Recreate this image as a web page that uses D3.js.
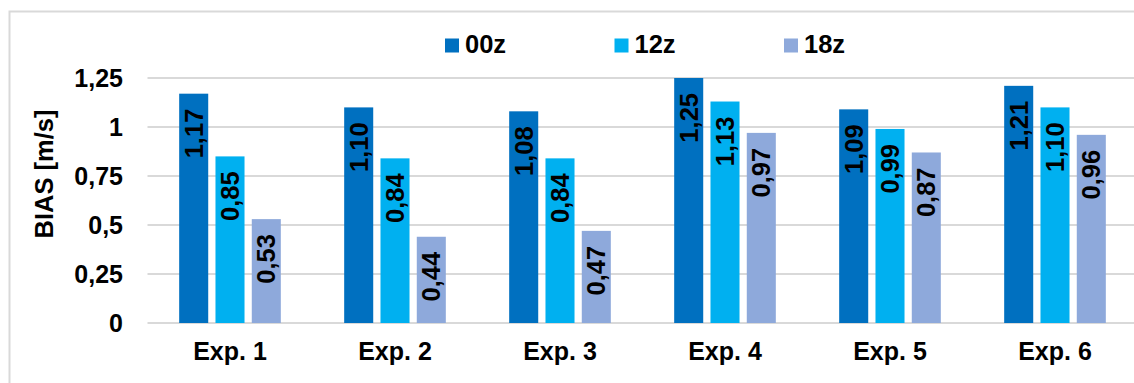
<!DOCTYPE html>
<html>
<head>
<meta charset="utf-8">
<script src="https://cdn.jsdelivr.net/npm/d3@7"></script>
<style>
  html, body { margin: 0; padding: 0; background: #fff; }
  svg { display: block; font-family: Arial, "Liberation Sans", sans-serif; }
</style>
</head>
<body>
<svg id="chart" width="1134" height="383"></svg>
<script>
// Wind speed bias per experiment and forecast cycle
const categories = ["Exp. 1", "Exp. 2", "Exp. 3", "Exp. 4", "Exp. 5", "Exp. 6"];
const seriesNames = ["00z", "12z", "18z"];
const values00z = [1.17, 1.10, 1.08, 1.25, 1.09, 1.21];
const values12z = [0.85, 0.84, 0.84, 1.13, 0.99, 1.10];
const values18z = [0.53, 0.44, 0.47, 0.97, 0.87, 0.96];
const yTicks = [0, 0.25, 0.5, 0.75, 1, 1.25];
const yTitle = "BIAS [m/s]";

const colors = { "00z": "#0070C0", "12z": "#00B0F0", "18z": "#8EA9DB" };
const seriesValues = { "00z": values00z, "12z": values12z, "18z": values18z };

const svg = d3.select("#chart");
const fmt = v => d3.format(".2f")(v).replace(".", ",");
const tickFmt = v => String(v).replace(".", ",");

// chart frame
svg.append("path")
  .attr("d", "M9.5,383 L9.5,11.5 L1134,11.5")
  .attr("fill", "none")
  .attr("stroke", "#d9d9d9")
  .attr("stroke-width", 2);

const y = d3.scaleLinear().domain([0, 1.25]).range([323, 78]);
const x0 = d3.scaleBand().domain(categories)
  .range([147.5, 1137.5]).paddingInner(0.384).paddingOuter(0.192);
const x1 = d3.scaleBand().domain(seriesNames)
  .range([0, x0.bandwidth()]).paddingInner(0.2).paddingOuter(0);

// horizontal gridlines
svg.append("g").selectAll("line").data(yTicks).join("line")
  .attr("x1", 147.5).attr("x2", 1134)
  .attr("y1", d => y(d)).attr("y2", d => y(d))
  .attr("stroke", "#d9d9d9").attr("stroke-width", 2);

// y axis tick labels
const yAxis = d3.axisLeft(y).tickValues(yTicks).tickFormat(tickFmt).tickSize(0).tickPadding(0);
const gy = svg.append("g").attr("transform", "translate(123,0)").call(yAxis);
gy.select(".domain").remove();
gy.selectAll("text")
  .attr("font-size", 25).attr("font-weight", "bold").attr("fill", "#000")
  .attr("font-family", "Arial, 'Liberation Sans', sans-serif")
  .attr("dy", "0.35em");

// y axis title
svg.append("text")
  .attr("transform", "translate(53,174) rotate(-90)")
  .attr("text-anchor", "middle")
  .attr("font-size", 25.5).attr("font-weight", "bold").attr("fill", "#000")
  .text(yTitle);

// x axis category labels
const xAxis = d3.axisBottom(x0).tickSize(0).tickPadding(0);
const gx = svg.append("g").attr("transform", "translate(0,359.5)").call(xAxis);
gx.select(".domain").remove();
gx.selectAll("text")
  .attr("font-size", 25).attr("font-weight", "bold").attr("fill", "#000")
  .attr("font-family", "Arial, 'Liberation Sans', sans-serif")
  .attr("dy", 0);

// bars and value labels
const rows = categories.map((c, i) => ({
  cat: c,
  items: seriesNames.map(s => ({ s, v: seriesValues[s][i] }))
}));

const groups = svg.append("g").selectAll("g").data(rows).join("g")
  .attr("transform", d => `translate(${x0(d.cat)},0)`);

groups.selectAll("rect").data(d => d.items).join("rect")
  .attr("x", d => x1(d.s))
  .attr("y", d => y(d.v))
  .attr("width", x1.bandwidth())
  .attr("height", d => y(0) - y(d.v))
  .attr("fill", d => colors[d.s]);

groups.selectAll("text.val").data(d => d.items).join("text")
  .attr("class", "val")
  .attr("transform", d => `translate(${x1(d.s) + x1.bandwidth() / 2 + 9},${y(d.v) + 15}) rotate(-90)`)
  .attr("text-anchor", "end")
  .attr("font-size", 25.5).attr("font-weight", "bold").attr("fill", "#000")
  .text(d => fmt(d.v));

// legend
const legendX = [445, 614.5, 784];
const legend = svg.append("g").selectAll("g").data(seriesNames).join("g")
  .attr("transform", (d, i) => `translate(${legendX[i]},0)`);
legend.append("rect")
  .attr("x", 0).attr("y", 38.5).attr("width", 14).attr("height", 14)
  .attr("fill", d => colors[d]);
legend.append("text")
  .attr("x", 20).attr("y", 53.3)
  .attr("font-size", 25.5).attr("font-weight", "bold").attr("fill", "#000")
  .text(d => d);
</script>
</body>
</html>
